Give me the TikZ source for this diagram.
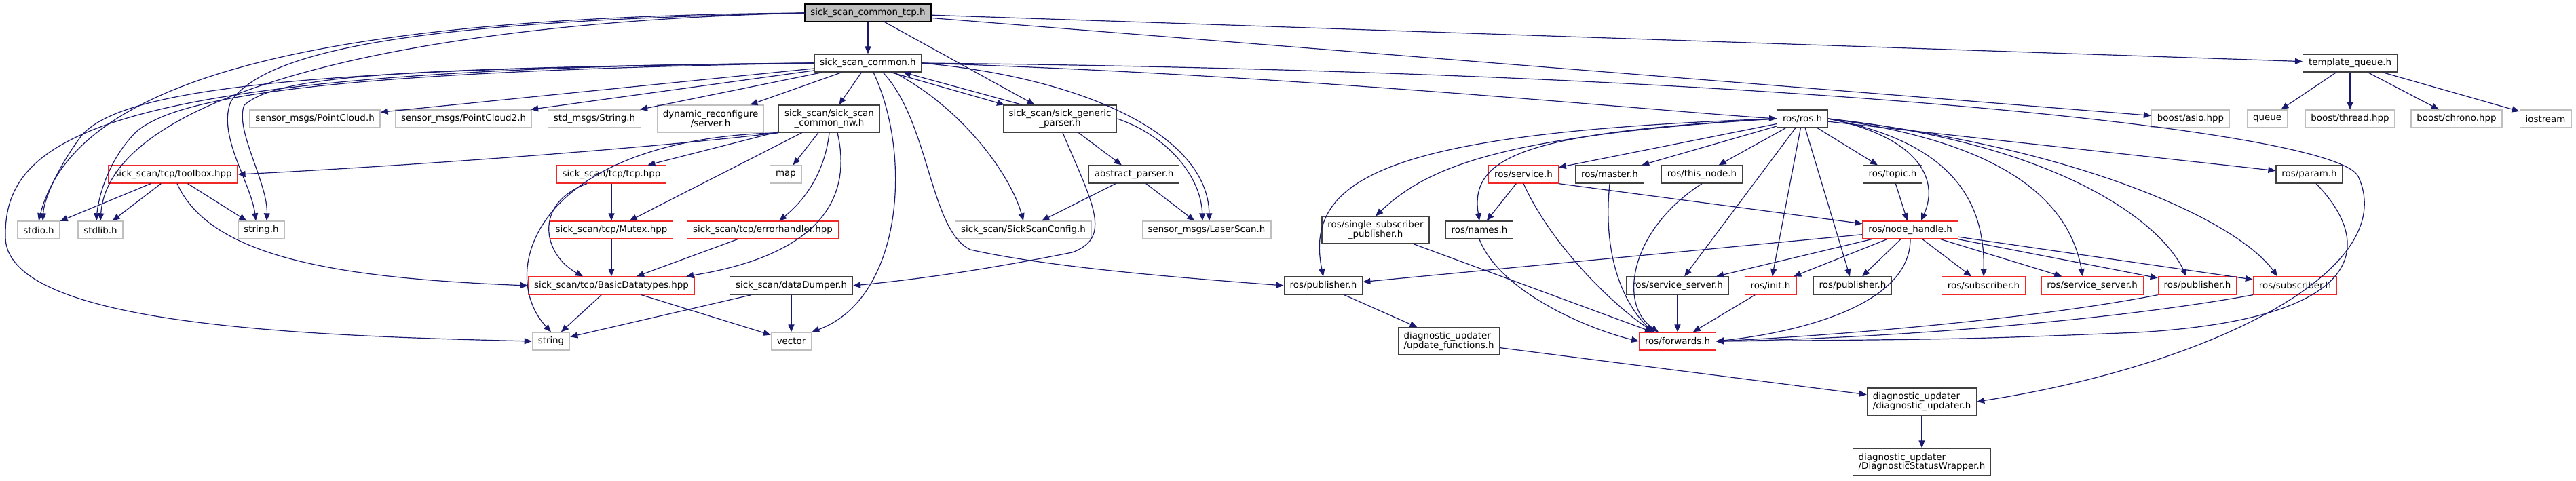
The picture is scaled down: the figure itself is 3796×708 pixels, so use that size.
\documentclass[tikz,border=0pt]{standalone}
\usepackage{fontspec}
\setmainfont{DejaVu Sans}
\usetikzlibrary{arrows.meta}
\definecolor{edgeblue}{RGB}{25,25,112}
\definecolor{rootgray}{RGB}{191,191,191}
\definecolor{extgray}{RGB}{191,191,191}
\definecolor{docgray}{RGB}{64,64,64}
\definecolor{cutred}{RGB}{240,40,40}
\tikzset{
    hdr/.style={rectangle, draw, line width=0.65pt, fill=white, text=black,
        font=\fontsize{6.7}{6.7}\selectfont, inner xsep=4.2pt, inner ysep=0pt,
        minimum height=13pt, align=center},
    rootbox/.style={hdr, fill=rootgray, draw=black},
    docbox/.style={hdr, draw=docgray},
    extbox/.style={hdr, draw=extgray},
    cutbox/.style={hdr, draw=cutred},
    twoline/.style={minimum height=20pt},
    incl/.style={-{Triangle[length=5.5pt,width=4.5pt]}, draw=edgeblue, line width=0.6pt}
}

\begin{document}
\begin{tikzpicture}[x=0.5pt, y=-0.5pt]
    \useasboundingbox (0,0) rectangle (3796,708);

    % rows of headers
    \node[rootbox] (tcp) at (1279,19) {sick\_scan\_common\_tcp.h};

    \node[docbox] (common) at (1279,93) {sick\_scan\_common.h};
    \node[docbox] (tq) at (3463,93) {template\_queue.h};

    \node[extbox] (pc) at (464,175) {sensor\_msgs/PointCloud.h};
    \node[extbox] (pc2) at (683,175) {sensor\_msgs/PointCloud2.h};
    \node[extbox] (strmsg) at (876,175) {std\_msgs/String.h};
    \node[extbox, twoline] (dynrec) at (1047,175) {dynamic\_reconfigure\\/server.h};
    \node[docbox, twoline] (nw) at (1222,175) {sick\_scan/sick\_scan\\\_common\_nw.h};
    \node[docbox, twoline] (gparser) at (1562,175) {sick\_scan/sick\_generic\\\_parser.h};
    \node[docbox] (ros) at (2656,175) {ros/ros.h};
    \node[extbox] (asio) at (3228,175) {boost/asio.hpp};
    \node[extbox] (queue) at (3341,175) {queue};
    \node[extbox] (thread) at (3463,175) {boost/thread.hpp};
    \node[extbox] (chrono) at (3620,175) {boost/chrono.hpp};
    \node[extbox] (iostream) at (3751,175) {iostream};

    \node[cutbox] (toolbox) at (255,257) {sick\_scan/tcp/toolbox.hpp};
    \node[cutbox] (tcphpp) at (901,257) {sick\_scan/tcp/tcp.hpp};
    \node[extbox] (map) at (1158,257) {map};
    \node[docbox] (absparser) at (1671,257) {abstract\_parser.h};
    \node[cutbox] (service) at (2245,257) {ros/service.h};
    \node[docbox] (master) at (2372,257) {ros/master.h};
    \node[docbox] (thisnode) at (2508,257) {ros/this\_node.h};
    \node[docbox] (topic) at (2789,257) {ros/topic.h};
    \node[docbox] (param) at (3403,257) {ros/param.h};

    \node[extbox] (stdio) at (57,339) {stdio.h};
    \node[extbox] (stdlib) at (148,339) {stdlib.h};
    \node[extbox] (stringh) at (385,339) {string.h};
    \node[cutbox] (mutex) at (901,339) {sick\_scan/tcp/Mutex.hpp};
    \node[cutbox] (errh) at (1124,339) {sick\_scan/tcp/errorhandler.hpp};
    \node[extbox] (sscfg) at (1508,339) {sick\_scan/SickScanConfig.h};
    \node[extbox] (laser) at (1778,339) {sensor\_msgs/LaserScan.h};
    \node[docbox, twoline] (ssp) at (2027,339) {ros/single\_subscriber\\\_publisher.h};
    \node[docbox] (names) at (2180,339) {ros/names.h};
    \node[cutbox] (nh) at (2815,339) {ros/node\_handle.h};

    \node[cutbox] (basic) at (901,421) {sick\_scan/tcp/BasicDatatypes.hpp};
    \node[docbox] (dumper) at (1166,421) {sick\_scan/dataDumper.h};
    \node[docbox] (pubA) at (1950,421) {ros/publisher.h};
    \node[docbox] (ssA) at (2472,421) {ros/service\_server.h};
    \node[cutbox] (init) at (2609,421) {ros/init.h};
    \node[docbox] (pubB) at (2730,421) {ros/publisher.h};
    \node[cutbox] (subA) at (2923,421) {ros/subscriber.h};
    \node[cutbox] (ssB) at (3083,421) {ros/service\_server.h};
    \node[cutbox] (pubC) at (3238,421) {ros/publisher.h};
    \node[cutbox] (subB) at (3382,421) {ros/subscriber.h};

    \node[extbox] (string) at (812,503) {string};
    \node[extbox] (vector) at (1166,503) {vector};
    \node[docbox, twoline, align=left] (updfn) at (2135,503) {diagnostic\_updater\\/update\_functions.h};
    \node[cutbox] (fwd) at (2472,503) {ros/forwards.h};

    \node[docbox, twoline, align=left] (diagup) at (2832,592) {diagnostic\_updater\\/diagnostic\_updater.h};
    \node[docbox, twoline, align=left] (dsw) at (2832,681) {diagnostic\_updater\\/DiagnosticStatusWrapper.h};

    % includes of the root file
    \draw[incl] (tcp) -- (common);
    \draw[incl] (tcp) -- (gparser);
    \draw[incl] (tcp) -- (tq);
    \draw[incl] (tcp) -- (asio);
    \draw[incl] (tcp.west) .. controls (450,25) and (110,120) .. (stdio.north);
    \draw[incl] (tcp.west) .. controls (550,35) and (160,150) .. (stdlib.north);
    \draw[incl] (tcp.west) .. controls (700,30) and (400,60) .. (340,150) .. controls (320,200) and (370,270) .. ([xshift=-4pt]stringh.north);

    % sick_scan_common.h
    \draw[incl] (common.west) .. controls (450,100) and (180,130) .. (120,200) .. controls (90,240) and (65,290) .. ([xshift=3pt]stdio.north);
    \draw[incl] (common.west) .. controls (500,105) and (260,140) .. (200,195) .. controls (160,235) and (145,290) .. ([xshift=-3pt]stdlib.north);
    \draw[incl] (common.west) .. controls (600,100) and (410,110) .. (360,155) .. controls (345,190) and (395,270) .. ([xshift=4pt]stringh.north);
    \draw[incl] (common.west) .. controls (150,100) and (5,200) .. (8,350) .. controls (10,480) and (450,495) .. (string.west);
    \draw[incl] (common) -- (pc);
    \draw[incl] (common) -- (pc2);
    \draw[incl] (common) -- (strmsg);
    \draw[incl] (common) -- (dynrec);
    \draw[incl] (common) -- (nw);
    \draw[incl] ([xshift=17pt]common.south) -- ([xshift=-41pt]gparser.north);
    \draw[incl] ([xshift=-28pt]gparser.north) -- ([xshift=26pt]common.south);
    \draw[incl] ([xshift=4pt]common.south) .. controls (1345,230) and (1330,440) .. (vector.north east);
    \draw[incl] ([xshift=11pt]common.south) .. controls (1370,180) and (1370,340) .. (1430,368) .. controls (1550,395) and (1750,410) .. (pubA.west);
    \draw[incl] ([xshift=19pt]common.south) .. controls (1420,160) and (1490,260) .. (sscfg.north);
    \draw[incl] (common.east) .. controls (1600,115) and (1780,200) .. ([xshift=2pt]laser.north);
    \draw[incl] (common.east) .. controls (1900,110) and (2400,160) .. (ros.west);
    \draw[incl] (common.east) .. controls (2600,105) and (3440,190) .. (3475,260) .. controls (3540,400) and (3250,540) .. (diagup.east);

    % sick_scan_common_nw.h
    \draw[incl] (nw.south west) .. controls (900,225) and (500,250) .. (toolbox.east);
    \draw[incl] (nw.south west) .. controls (790,205) and (730,400) .. (string.north);
    \draw[incl] (nw) -- (tcphpp);
    \draw[incl] (nw) -- (mutex);
    \draw[incl] (nw) -- (map);
    \draw[incl] (nw.south) .. controls (1215,260) and (1180,300) .. ([xshift=12pt]errh.north);
    \draw[incl] ([xshift=6pt]nw.south) .. controls (1265,330) and (1150,385) .. ([xshift=55pt]basic.north);

    % parser
    \draw[incl] (gparser) -- (absparser);
    \draw[incl] (gparser.east) .. controls (1720,200) and (1770,260) .. ([xshift=-3pt]laser.north);
    \draw[incl] ([xshift=2pt]gparser.south) .. controls (1610,300) and (1640,350) .. (1580,372) .. controls (1450,398) and (1350,412) .. (dumper.east);
    \draw[incl] (absparser) -- (sscfg);
    \draw[incl] (absparser) -- (laser);

    % tcp helpers
    \draw[incl] (toolbox) -- (stdio);
    \draw[incl] (toolbox) -- (stdlib);
    \draw[incl] (toolbox) -- (stringh);
    \draw[incl] ([xshift=3pt]toolbox.south) .. controls (310,380) and (500,410) .. (basic.west);
    \draw[incl] (tcphpp) -- (mutex);
    \draw[incl] ([xshift=-18pt]tcphpp.south) .. controls (785,300) and (800,375) .. ([xshift=-21pt]basic.north);
    \draw[incl] (mutex) -- (basic);
    \draw[incl] (errh) -- (basic);
    \draw[incl] (basic) -- (string);
    \draw[incl] (basic) -- (vector);
    \draw[incl] (dumper) -- (string);
    \draw[incl] (dumper) -- (vector);

    % ros/ros.h
    \draw[incl] (ros.west) .. controls (2200,200) and (2100,250) .. (ssp.north);
    \draw[incl] (ros.west) .. controls (2050,195) and (1920,260) .. (pubA.north);
    \draw[incl] (ros.west) .. controls (2250,195) and (2165,230) .. (names.north);
    \draw[incl] (ros) -- (service);
    \draw[incl] (ros) -- (master);
    \draw[incl] (ros) -- (thisnode);
    \draw[incl] (ros) -- (ssA);
    \draw[incl] (ros) -- (init);
    \draw[incl] (ros) -- (pubB);
    \draw[incl] (ros) -- (topic);
    \draw[incl] (ros) -- (param);
    \draw[incl] (ros.east) .. controls (2820,200) and (2860,260) .. ([xshift=8pt]nh.north);
    \draw[incl] (ros.east) .. controls (2880,210) and (2925,300) .. (subA.north);
    \draw[incl] (ros.east) .. controls (2960,210) and (3050,300) .. ([xshift=-7pt]ssB.north);
    \draw[incl] (ros.east) .. controls (3020,210) and (3180,320) .. ([xshift=-8pt]pubC.north);
    \draw[incl] (ros.east) .. controls (3080,220) and (3300,330) .. ([xshift=-13pt]subB.north);

    % ros internals
    \draw[incl] (service) -- (names);
    \draw[incl] (service.south east) -- (nh);
    \draw[incl] (service.south) .. controls (2290,370) and (2390,460) .. ([xshift=-17pt]fwd.north);
    \draw[incl] (master.south) .. controls (2360,390) and (2400,455) .. ([xshift=-18pt]fwd.north);
    \draw[incl] (thisnode.south) .. controls (2400,340) and (2385,450) .. ([xshift=-14pt]fwd.north);
    \draw[incl] (topic) -- (nh);
    \draw[incl] (names.south) .. controls (2210,430) and (2340,485) .. (fwd.west);
    \draw[incl] (ssp) -- (fwd);
    \draw[incl] (ssA) -- (fwd);
    \draw[incl] (init) -- (fwd);
    \draw[incl] (nh) -- (pubA);
    \draw[incl] (nh) -- (ssA);
    \draw[incl] (nh) -- (init);
    \draw[incl] (nh) -- (pubB);
    \draw[incl] (nh) -- (subA);
    \draw[incl] (nh) -- (ssB);
    \draw[incl] (nh) -- (pubC);
    \draw[incl] (nh) -- (subB);
    \draw[incl] (nh.south) .. controls (2815,450) and (2650,490) .. (fwd.east);
    \draw[incl] (pubC.south west) .. controls (3000,470) and (2700,495) .. (fwd.east);
    \draw[incl] (subB.south west) .. controls (3100,475) and (2750,500) .. (fwd.east);
    \draw[incl] ([xshift=5pt]param.south) .. controls (3500,360) and (3490,470) .. (3150,490) .. controls (2900,500) .. (fwd.east);

    % diagnostics
    \draw[incl] (pubA) -- (updfn);
    \draw[incl] (updfn) -- (diagup);
    \draw[incl] (diagup) -- (dsw);

    % template_queue.h
    \draw[incl] (tq) -- (queue);
    \draw[incl] (tq) -- (thread);
    \draw[incl] (tq) -- (chrono);
    \draw[incl] (tq) -- (iostream);
\end{tikzpicture}
\end{document}
